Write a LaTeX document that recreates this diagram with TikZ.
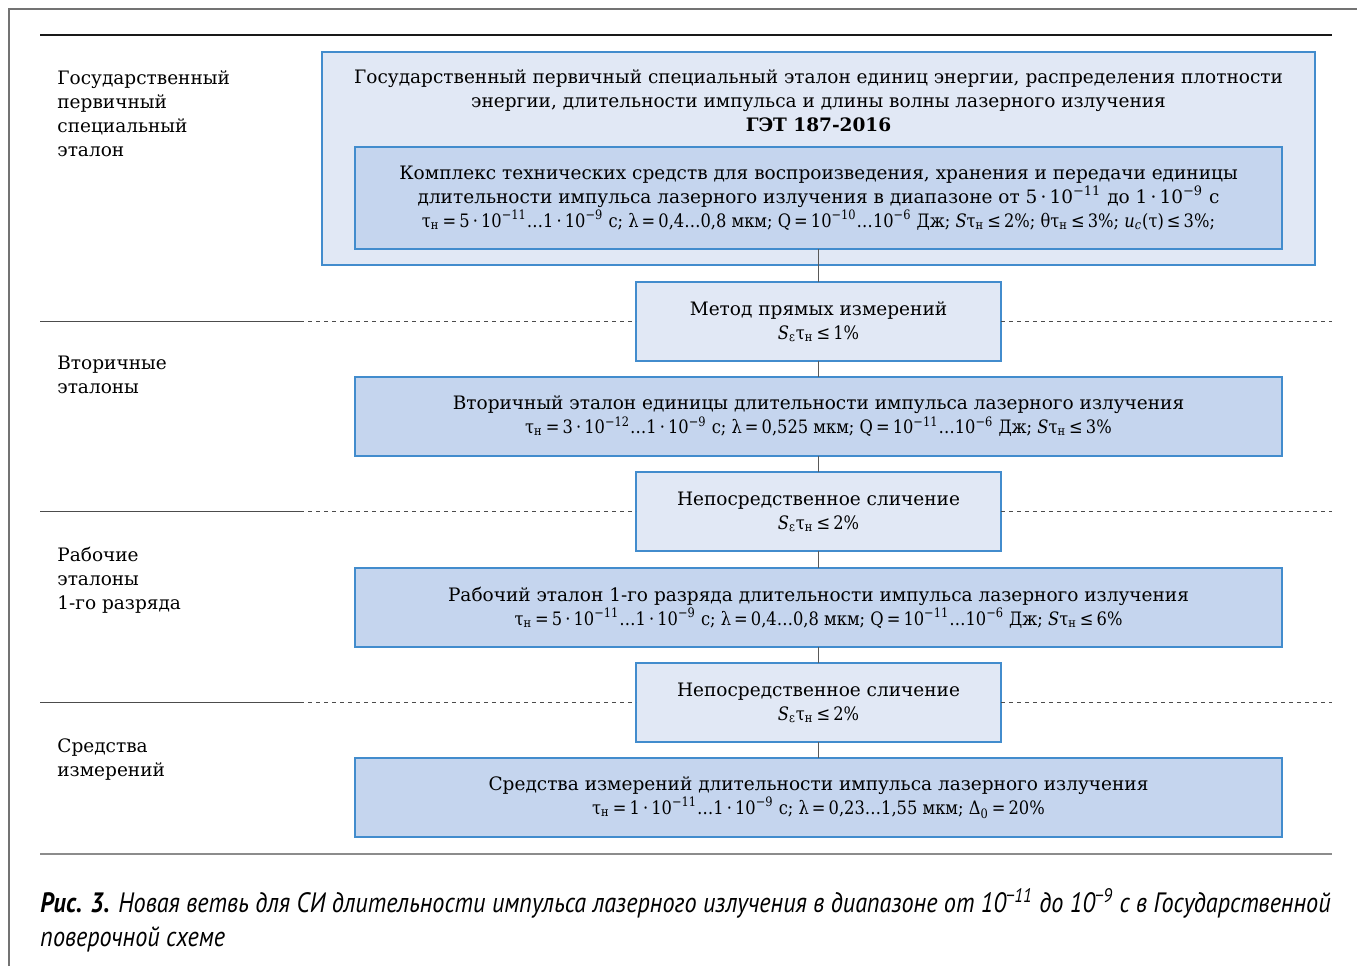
\documentclass[tikz,border=0pt]{standalone}
\usepackage{fontspec}
\setmainfont{DejaVu Serif}
\newfontfamily\fml[FakeStretch=0.88]{DejaVu Serif}
\newfontfamily\capfont[FakeStretch=0.865]{PT Sans}
\usetikzlibrary{positioning}
\definecolor{boxline}{RGB}{66,140,205}
\definecolor{lightfill}{RGB}{225,232,245}
\definecolor{darkfill}{RGB}{197,213,238}
\tikzstyle{rowElt}=[draw=boxline, line width=0.7pt, fill=darkfill,
  minimum width=463.5pt, minimum height=39.5pt, inner sep=0pt, outer sep=0pt,
  align=center, font=\fontsize{9.25}{12}\selectfont]
\tikzstyle{methodElt}=[rowElt, fill=lightfill, minimum width=182.5pt]
\tikzstyle{outerElt}=[rowElt, fill=lightfill, minimum width=496.5pt,
  minimum height=106.5pt]
\tikzstyle{innerElt}=[rowElt, minimum height=51pt]
\tikzstyle{levelTxt}=[anchor=north west, align=left, inner sep=0pt,
  font=\fontsize{9.25}{12}\selectfont]
\tikzstyle{link}=[draw, line width=0.6pt, color=black!65]
\tikzstyle{sepline}=[draw, line width=0.5pt, color=black!70]
\tikzstyle{sepdash}=[sepline, dash pattern=on 2pt off 2pt]
\newcommand{\tn}{τ\textsubscript{н}}
\newcommand{\ex}[1]{\textsuperscript{#1}}
\newcommand{\stageElt}[4]{node (#1) [#2, anchor=north] {#3\\{\fml #4}}}

\begin{document}
\begin{tikzpicture}[x=0.5pt, y=-0.5pt]
  \useasboundingbox (0,0) rectangle (1357,966);

  % Frame and rules
  \draw[line width=0.6pt, color=black!55] (9,966) -- (9,9) -- (1357,9);
  \draw[line width=0.7pt, color=black!90] (40,35) -- (1332,35);
  \draw[line width=1pt, color=black!45] (40,854) -- (1332,854);

  % Draw diagram elements
  \path (818.5,52) node (get) [outerElt, anchor=north] {};
  \path (get.north)+(0,17) node (gettxt) [anchor=north, align=center,
    inner sep=0pt, font=\fontsize{9.25}{12}\selectfont]
    {Государственный первичный специальный эталон единиц энергии, распределения плотности\\
     энергии, длительности импульса и длины волны лазерного излучения\\
     \textbf{ГЭТ 187-2016}};
  \path (get.north)+(0,95) node (kts) [innerElt, anchor=north]
    {Комплекс технических средств для воспроизведения, хранения и передачи единицы\\
     длительности импульса лазерного излучения в диапазоне от 5\,·\,10\ex{−11} до 1\,·\,10\ex{−9} с\\
     {\fml\tn\,=\,5\,·\,10\ex{−11}\ldots1\,·\,10\ex{−9} с; λ\,=\,0,4\ldots0,8 мкм; Q\,=\,10\ex{−10}\ldots10\ex{−6} Дж;
     \textit{S}\tn\,≤\,2\%; θ\tn\,≤\,3\%; \textit{u}\textsubscript{\textit{c}}(τ)\,≤\,3\%;}};
  \path (kts.south)+(0,33) \stageElt{m1}{methodElt}{Метод прямых измерений}
    {\textit{S}\textsubscript{ε}\tn\,≤\,1\%};
  \path (m1.south)+(0,16) \stageElt{e2}{rowElt}
    {Вторичный эталон единицы длительности импульса лазерного излучения}
    {\tn\,=\,3\,·\,10\ex{−12}\ldots1\,·\,10\ex{−9} с; λ\,=\,0,525 мкм; Q\,=\,10\ex{−11}\ldots10\ex{−6} Дж; \textit{S}\tn\,≤\,3\%};
  \path (e2.south)+(0,16) \stageElt{m2}{methodElt}{Непосредственное сличение}
    {\textit{S}\textsubscript{ε}\tn\,≤\,2\%};
  \path (m2.south)+(0,17) \stageElt{e3}{rowElt}
    {Рабочий эталон 1-го разряда длительности импульса лазерного излучения}
    {\tn\,=\,5\,·\,10\ex{−11}\ldots1\,·\,10\ex{−9} с; λ\,=\,0,4\ldots0,8 мкм; Q\,=\,10\ex{−11}\ldots10\ex{−6} Дж; \textit{S}\tn\,≤\,6\%};
  \path (e3.south)+(0,16) \stageElt{m3}{methodElt}{Непосредственное сличение}
    {\textit{S}\textsubscript{ε}\tn\,≤\,2\%};
  \path (m3.south)+(0,16) \stageElt{si}{rowElt}
    {Средства измерений длительности импульса лазерного излучения}
    {\tn\,=\,1\,·\,10\ex{−11}\ldots1\,·\,10\ex{−9} с; λ\,=\,0,23\ldots1,55 мкм; Δ\textsubscript{0}\,=\,20\%};

  % Draw links between elements
  \path [link] (kts.south) -- (m1.north);
  \path [link] (m1.south) -- (e2.north);
  \path [link] (e2.south) -- (m2.north);
  \path [link] (m2.south) -- (e3.north);
  \path [link] (e3.south) -- (m3.north);
  \path [link] (m3.south) -- (si.north);

  % Level separators
  \foreach \m in {m1,m2,m3}{
    \path [sepline] (40,0 |- \m.west) -- (300,0 |- \m.west);
    \path [sepdash] (300,0 |- \m.west) -- (\m.west);
    \path [sepdash] (\m.east) -- (1332,0 |- \m.east);
  }

  % Level names
  \path (57,70) node (l1) [levelTxt]
    {Государственный\\первичный\\специальный\\эталон};
  \path (57,356) node (l2) [levelTxt] {Вторичные\\эталоны};
  \path (57,547) node (l3) [levelTxt] {Рабочие\\эталоны\\1-го разряда};
  \path (57,738) node (l4) [levelTxt] {Средства\\измерений};

  % Caption
  \path (40,888) node (cap) [anchor=north west, align=left, inner sep=0pt,
    font=\capfont\fontsize{14}{17}\selectfont]
    {\textbf{\textit{Рис. 3.}} \textit{Новая ветвь для СИ длительности импульса лазерного излучения в диапазоне от 10\ex{−11} до 10\ex{−9} с в Государственной}\\
     \textit{поверочной схеме}};
\end{tikzpicture}
\end{document}
